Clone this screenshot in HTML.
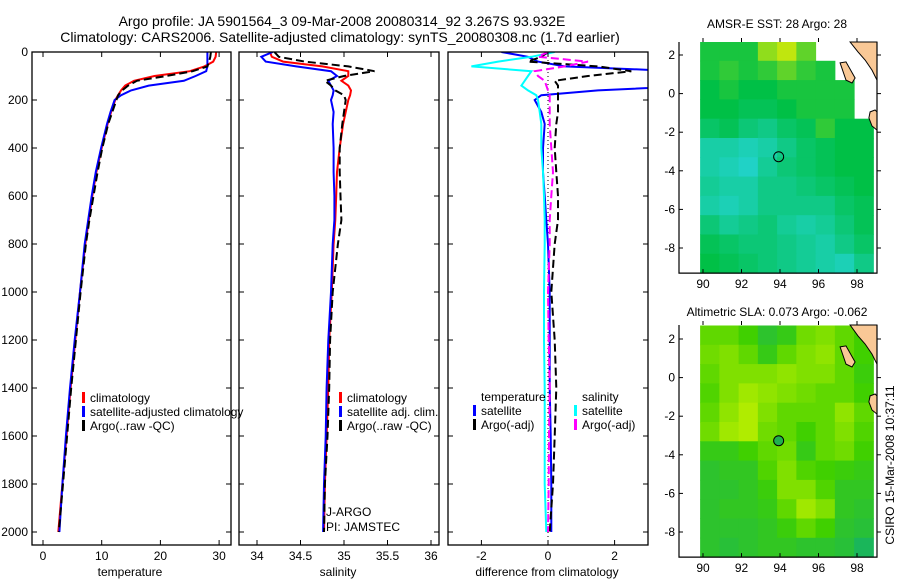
<!DOCTYPE html>
<html><head><meta charset="utf-8"><style>
html,body{margin:0;padding:0;background:#fff;}
svg{display:block;font-family:"Liberation Sans",sans-serif;}
text{fill:#000;}
</style></head><body>
<svg id="fig" width="900" height="580" viewBox="0 0 900 580" xmlns="http://www.w3.org/2000/svg">
<text x="342" y="26" font-size="14" text-anchor="middle">Argo profile: JA 5901564_3 09-Mar-2008 20080314_92 3.267S 93.932E</text>
<text x="340" y="42" font-size="14" text-anchor="middle">Climatology: CARS2006. Satellite-adjusted climatology: synTS_20080308.nc (1.7d earlier)</text>
<text x="777" y="28" font-size="12" text-anchor="middle">AMSR-E SST: 28 Argo: 28</text>
<text x="777" y="316" font-size="12" text-anchor="middle">Altimetric SLA: 0.073 Argo: -0.062</text>
<text x="0" y="0" font-size="12" text-anchor="middle" transform="translate(894,465) rotate(-90)">CSIRO 15-Mar-2008 10:37:11</text>
<text x="130" y="576" font-size="12" text-anchor="middle">temperature</text>
<text x="338" y="576" font-size="12" text-anchor="middle">salinity</text>
<text x="547" y="576" font-size="12" text-anchor="middle">difference from climatology</text>
<text x="326" y="516" font-size="12">J-ARGO</text>
<text x="326" y="531" font-size="12">PI: JAMSTEC</text>
<g id="layer"></g>
</svg>
<script>
const depths=[0,20,40,60,80,100,120,140,160,180,200,250,300,400,500,600,700,800,1000,1200,1400,1600,1800,2000];
const depthTicks=[0,200,400,600,800,1000,1200,1400,1600,1800,2000];
const tempClim=[29.5,29.4,29.0,27.5,25,19,15.5,14,13.3,12.8,12.3,11.6,11,10,9.1,8.4,7.8,7.2,6.3,5.5,4.7,4,3.3,2.6];
const tempSat=[28,28,28,28,27.8,26,24,18,15,13.3,12.2,11.5,10.9,9.9,9.0,8.3,7.7,7.1,6.3,5.4,4.6,3.9,3.3,2.8];
const tempArgo=[28.6,28.5,28.3,28,25.5,21,16,14.5,13.5,12.8,12.5,11.8,11.1,10.1,9.3,8.6,7.9,7.3,6.4,5.6,4.8,4.1,3.4,2.7];
const tempTicks=[0,10,20,30];
const salClim=[34.15,34.17,34.3,34.75,35.05,35.05,34.97,35.05,35.08,35.07,35.05,35.02,34.99,34.95,34.92,34.91,34.9,34.88,34.86,34.83,34.82,34.8,34.78,34.77];
const salSat=[34.18,34.05,34.1,34.45,34.85,34.92,34.82,34.85,34.88,34.87,34.85,34.88,34.87,34.88,34.88,34.89,34.89,34.87,34.85,34.82,34.8,34.79,34.77,34.76];
const salArgo=[34.2,34.25,34.55,35.05,35.35,35.0,34.78,34.85,34.9,35.0,35.02,35.0,34.98,34.95,34.95,34.96,34.97,34.93,34.87,34.84,34.83,34.81,34.78,34.77];
const salTicks=[34,34.5,35,35.5,36];
const diffTempSat=[-1.4,-0.6,-0.3,0.5,4,5,5,4.5,1.5,-0.2,-0.4,-0.2,-0.1,-0.15,-0.15,-0.1,-0.05,0,0.05,0.05,0.05,0.08,0.1,0.1];
const diffTempArgo=[0,-0.2,-0.6,1.5,2.5,1.2,0.2,0.3,0.3,0.3,0.3,0.3,0.25,0.2,0.25,0.3,0.3,0.2,0.1,0.2,0.25,0.2,0.15,0.05];
const diffSalSat=[0.2,-0.5,-1.5,-2.3,-0.5,-0.6,-0.7,-0.8,-0.6,-0.35,-0.3,-0.25,-0.2,-0.2,-0.15,-0.12,-0.1,-0.1,-0.12,-0.12,-0.1,-0.1,-0.1,-0.05];
const diffSalArgo=[0,-0.3,1.2,0.5,-0.4,-0.3,-0.1,-0.05,0,0.05,0.05,0.05,0.05,0.1,0.15,0.1,0.05,0.05,0,0.02,0.05,0.03,0.02,0];
const diffTicks=[-2,0,2];
const mapLonTicks=[90,92,94,96,98];
const mapLatTicks=[2,0,-2,-4,-6,-8];
const cellLons=[90.35,91.35,92.35,93.35,94.35,95.35,96.35,97.35,98.35];
const cellLats=[2.2,1.2,0.2,-0.8,-1.8,-2.8,-3.8,-4.8,-5.8,-6.8,-7.8,-8.8];
const sstGrid=[
[.55,.55,.55,.8,.9,.7,-1,-1,-1],
[.55,.6,.55,.6,.7,.6,.55,-1,-1],
[.5,.55,.5,.5,.55,.55,.55,.55,-1],
[.5,.5,.45,.45,.5,.55,.55,.55,-1],
[.4,.45,.35,.3,.4,.45,.6,.5,.5],
[.2,.2,.15,.2,.3,.4,.45,.5,.5],
[.2,.15,.1,.25,.35,.4,.45,.5,.5],
[.25,.2,.2,.3,.3,.35,.4,.45,.5],
[.2,.15,.2,.3,.3,.3,.3,.4,.45],
[.35,.25,.3,.35,.25,.2,.25,.35,.45],
[.45,.4,.35,.35,.3,.25,.2,.3,.4],
[.5,.45,.4,.35,.3,.25,.2,.15,.3]];
const slaGrid=[
[.6,.6,.5,.3,.4,.65,.7,.6,.5],
[.65,.7,.6,.4,.6,.7,.75,.6,.5],
[.6,.7,.7,.7,.75,.7,.7,.6,.45],
[.55,.7,.8,.75,.7,.65,.6,.6,.5],
[.6,.75,.85,.7,.6,.6,.6,.75,.6],
[.65,.8,.85,.65,.6,.5,.6,.7,.55],
[.4,.4,.5,.6,.65,.4,.6,.65,.5],
[.3,.35,.35,.55,.7,.55,.5,.45,.4],
[.3,.3,.35,.45,.7,.7,.55,.35,.35],
[.3,.35,.35,.4,.6,.8,.7,.35,.3],
[.3,.3,.3,.35,.45,.6,.5,.3,.25],
[.3,.25,.3,.35,.35,.3,.3,.25,.1]];
const argoLon=93.93, argoLat=-3.27;
const land=[
[[97.64,2.75],[99.04,2.75],[99.04,0.70],[98.78,1.22],[98.42,1.74],[98.05,2.16]],
[[97.12,1.59],[97.43,1.64],[97.90,0.81],[97.74,0.55],[97.43,0.70]],
[[98.68,-0.95],[98.94,-0.85],[99.04,-0.95],[99.04,-1.89],[98.78,-1.68],[98.62,-1.26]]];

const NS='http://www.w3.org/2000/svg';
const layer=document.getElementById('layer');
function mk(tag,attrs,parent){const e=document.createElementNS(NS,tag);for(const k in attrs)e.setAttribute(k,attrs[k]);(parent||layer).appendChild(e);return e;}
const Y=d=>52+0.24*d;
const panels=[
 {name:'temperature',x0:32,x1:231,X:v=>43+(v-0)*5.87,ticks:tempTicks,series:[[tempClim,'#ff0000',''],[tempSat,'#0000ff',''],[tempArgo,'#000000','8,4']]},
 {name:'salinity',x0:239,x1:439,X:v=>257+(v-34)*87,ticks:salTicks,series:[[salClim,'#ff0000',''],[salSat,'#0000ff',''],[salArgo,'#000000','8,4']]},
 {name:'difference',x0:448,x1:648,X:v=>548+v*33.3,ticks:diffTicks,series:[[diffTempSat,'#0000ff',''],[diffSalSat,'#00ffff',''],[diffTempArgo,'#000000','8,4'],[diffSalArgo,'#ff00ff','8,4']]}];
const seriesNames={temperature:['temp-climatology-line','temp-satellite-line','temp-argo-line'],salinity:['sal-climatology-line','sal-satellite-line','sal-argo-line'],difference:['diff-temp-satellite-line','diff-sal-satellite-line','diff-temp-argo-line','diff-sal-argo-line']};
panels.forEach(p=>{
  const g=mk('g',{});
  
  
  const cp=mk('clipPath',{id:'cp-'+p.name},g);
  mk('rect',{x:p.x0,y:52,width:p.x1-p.x0,height:493},cp);
  if(p.name==='difference'){
    const z=mk('line',{x1:p.X(0),x2:p.X(0),y1:52,y2:545,stroke:'#000','stroke-width':1,'stroke-dasharray':'1,3'},g);
    
    
  }
  p.series.forEach((s,i)=>{
    const pts=s[0].map((v,j)=>p.X(v).toFixed(1)+','+Y(depths[j]).toFixed(1)).join(' ');
    const pl=mk('polyline',{points:pts,fill:'none',stroke:s[1],'stroke-width':2,'stroke-dasharray':s[2]||'none','clip-path':'url(#cp-'+p.name+')'},g);
    
    
  });
  const fr=mk('rect',{x:p.x0,y:52,width:p.x1-p.x0,height:493,fill:'none',stroke:'#000','stroke-width':1.3},g);
  
  
  p.ticks.forEach(t=>{
    const x=p.X(t);
    mk('line',{x1:x,x2:x,y1:545,y2:540,stroke:'#000'},g);
    mk('line',{x1:x,x2:x,y1:52,y2:57,stroke:'#000'},g);
    const tl=mk('text',{x:x,y:560,'font-size':12,'text-anchor':'middle'},g);
    tl.textContent=String(t);
    
    
  });
  depthTicks.forEach(d=>{
    mk('line',{x1:p.x0,x2:p.x0+5,y1:Y(d),y2:Y(d),stroke:'#000'},g);
    mk('line',{x1:p.x1,x2:p.x1-5,y1:Y(d),y2:Y(d),stroke:'#000'},g);
    if(p.name==='temperature'){
      const tl=mk('text',{x:28,y:Y(d)+4,'font-size':12,'text-anchor':'end'},g);
      tl.textContent=String(d);
      
      
    }
  });
});
const legends=[
 [82,[['#ff0000','climatology'],['#0000ff','satellite-adjusted climatology'],['#000000','Argo(..raw -QC)']],398],
 [339,[['#ff0000','climatology'],['#0000ff','satellite adj. clim.'],['#000000','Argo(..raw -QC)']],398],
 [473,[[null,'temperature'],['#0000ff','satellite'],['#000000','Argo(-adj)']],397],
 [574,[[null,'salinity'],['#00ffff','satellite'],['#ff00ff','Argo(-adj)']],397]];
legends.forEach((L,li)=>{
  L[1].forEach((e,i)=>{
    const y=L[2]+i*14;
    if(e[0]){const b=mk('rect',{x:L[0],y:y-6,width:3,height:11,fill:e[0]});
      
      }
    const t=mk('text',{x:L[0]+8,y:y+4,'font-size':12});
    t.textContent=e[1];
    
    
  });
});
function lerp(a,b,t){return a.map((v,i)=>Math.round(v+(b[i]-v)*t));}
function cmap(stops,v){if(v<=0.5)return 'rgb('+lerp(stops[0],stops[1],v/0.5)+')';return 'rgb('+lerp(stops[1],stops[2],(v-0.5)/0.5)+')';}
const sstStops=[[40,215,230],[0,192,70],[240,240,0]];
const slaStops=[[16,176,112],[64,208,0],[224,248,0]];
function drawMap(name,grid,stops,top,latY2,filled){
  const g=mk('g',{});
  
  
  const LX=l=>703+(l-90)*19.25;
  const LY=l=>latY2+(2-l)*19.3;
  const bottom=LY(-9.3);
  grid.forEach((row,r)=>row.forEach((v,c)=>{
    if(v<0)return;
    const x0=Math.max(LX(cellLons[c]-0.5),700), x1=Math.min(LX(cellLons[c]+0.5),877);
    const y0=Math.max(LY(cellLats[r]+0.5),top), y1=Math.min(LY(cellLats[r]-0.5),bottom);
    const cell=mk('rect',{x:x0,y:y0,width:x1-x0+0.5,height:y1-y0+0.5,fill:cmap(stops,v)},g);
    
    
  }));
  land.forEach(poly=>{
    const pg=mk('polygon',{points:poly.map(p=>LX(p[0]).toFixed(1)+','+Math.max(LY(p[1]),top).toFixed(1)).join(' '),fill:'#f9c896',stroke:'#000','stroke-width':1},g);
    
    
  });
  const ax=mk('path',{d:`M679,${top} V${bottom} H877 V${top}`,fill:'none',stroke:'#000','stroke-width':1.2},g);
  
  
  mapLonTicks.forEach(l=>{
    mk('line',{x1:LX(l),x2:LX(l),y1:bottom,y2:bottom-4,stroke:'#000'},g);
    mk('line',{x1:LX(l),x2:LX(l),y1:top,y2:top-4,stroke:'#000'},g);
    const t=mk('text',{x:LX(l),y:bottom+15,'font-size':12,'text-anchor':'middle'},g);
    t.textContent=String(l);
    
    
  });
  mapLatTicks.forEach(l=>{
    mk('line',{x1:679,x2:683,y1:LY(l),y2:LY(l),stroke:'#000'},g);
    mk('line',{x1:877,x2:881,y1:LY(l),y2:LY(l),stroke:'#000'},g);
    const t=mk('text',{x:675,y:LY(l)+4,'font-size':12,'text-anchor':'end'},g);
    t.textContent=String(l);
    
    
  });
  const m=mk('circle',{cx:LX(argoLon),cy:LY(argoLat),r:5,fill:filled?'#20b050':'none',stroke:'#000','stroke-width':1},g);
  
  
}
drawMap('sst',sstGrid,sstStops,42,55,false);
drawMap('sla',slaGrid,slaStops,325,339,true);
</script>
</body></html>
